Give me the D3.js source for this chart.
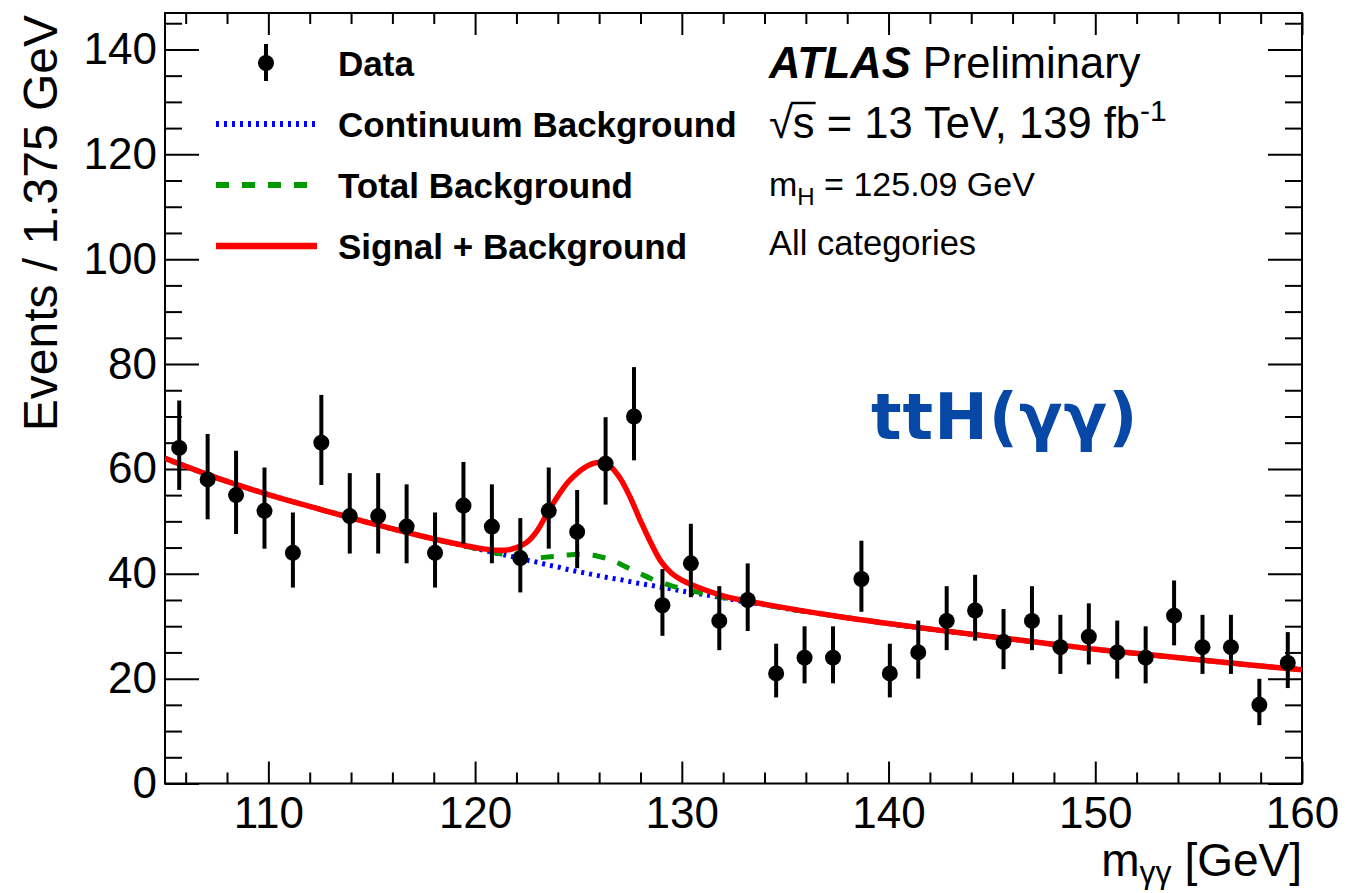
<!DOCTYPE html>
<html>
<head>
<meta charset="utf-8">
<script src="https://cdn.jsdelivr.net/npm/d3@7"></script>
<style>
  html, body { margin: 0; padding: 0; background: #fff; }
  svg { display: block; }
  text { font-family: "Liberation Sans", Arial, Helvetica, sans-serif; }
</style>
</head>
<body>
<svg id="chart" width="1369" height="893"></svg>
<script>
// ---- data -------------------------------------------------------------
// diphoton invariant mass bins (1.375 GeV wide), bin centres in GeV
const binCenters = [105.6875, 107.0625, 108.4375, 109.8125, 111.1875, 112.5625, 113.9375, 115.3125,
  116.6875, 118.0625, 119.4375, 120.8125, 122.1875, 123.5625, 124.9375, 126.3125, 127.6875, 129.0625,
  130.4375, 131.8125, 133.1875, 134.5625, 135.9375, 137.3125, 138.6875, 140.0625, 141.4375, 142.8125,
  144.1875, 145.5625, 146.9375, 148.3125, 149.6875, 151.0625, 152.4375, 153.8125, 155.1875, 156.5625,
  157.9375, 159.3125];
// observed events per bin
const dataCounts = [64, 58, 55, 52, 44, 65, 51, 51, 49, 44, 53, 49, 43, 52, 48, 61, 70, 34, 42, 31,
  35, 21, 24, 24, 39, 21, 25, 31, 33, 27, 31, 26, 28, 25, 24, 32, 26, 26, 15, 23];

// fit curves sampled along the mass axis
const curveMass = [105, 107.5, 110, 112.5, 115, 117.5, 118.5, 119.5, 120.5, 121.5, 122, 122.5, 123, 123.5,
  124, 124.5, 125, 125.5, 126, 126.5, 127, 127.5, 128, 128.5, 129, 129.5, 130, 131, 132, 133, 134, 135,
  137.5, 140, 142.5, 145, 147.5, 150, 152.5, 155, 157.5, 160];
const continuumBkg = [62.0, 58.3, 55.1, 52.3, 49.6, 47.1, 46.2, 45.3, 44.4, 43.5, 43.1, 42.6, 42.2, 41.7,
  41.3, 40.8, 40.4, 40.0, 39.6, 39.2, 38.9, 38.5, 38.1, 37.8, 37.4, 37.1, 36.7, 36.1, 35.4, 34.7, 34.1, 33.4,
  31.9, 30.5, 29.2, 28.0, 26.8, 25.6, 24.6, 23.6, 22.6, 21.7];
const totalBkg = [62.0, 58.3, 55.1, 52.3, 49.6, 47.1, 46.2, 45.3, 44.4, 43.6, 43.2, 42.9, 43.0, 43.2,
  43.4, 43.6, 43.7, 43.6, 43.3, 42.7, 41.9, 40.9, 40.0, 39.1, 38.4, 37.7, 37.2, 36.3, 35.5, 34.8, 34.1, 33.4,
  31.9, 30.5, 29.2, 28.0, 26.8, 25.6, 24.6, 23.6, 22.6, 21.7];
const signalPlusBkg = [62.0, 58.3, 55.1, 52.3, 49.6, 47.1, 46.2, 45.4, 44.7, 44.5, 45.0, 46.0, 48.2, 51.6,
  54.8, 57.5, 59.4, 60.7, 61.2, 60.6, 58.3, 54.6, 50.1, 45.9, 42.3, 40.1, 38.8, 37.1, 35.8, 34.9, 34.2, 33.5,
  31.9, 30.5, 29.2, 28.0, 26.8, 25.6, 24.6, 23.6, 22.6, 21.7];

// axis ticks
const xMajorTicks = [110, 120, 130, 140, 150, 160];
const xMinorTicks = [106, 108, 112, 114, 116, 118, 122, 124, 126, 128, 132, 134, 136, 138, 142, 144,
  146, 148, 152, 154, 156, 158];
const yMajorTicks = [0, 20, 40, 60, 80, 100, 120, 140];
const yMinorTicks = [5, 10, 15, 25, 30, 35, 45, 50, 55, 65, 70, 75, 85, 90, 95, 105, 110, 115, 125, 130, 135, 145];

const legendEntries = ["Data", "Continuum Background", "Total Background", "Signal + Background"];

// ---- layout -------------------------------------------------------------
const svg = d3.select("#chart");
const frame = { left: 165, right: 1302, top: 13, bottom: 783.5 };

const x = d3.scaleLinear().domain([105, 160]).range([frame.left, frame.right]);
const y = d3.scaleLinear().domain([0, 146.95]).range([frame.bottom, frame.top]);

svg.append("rect").attr("width", 1369).attr("height", 893).attr("fill", "#fff");

svg.append("defs").append("clipPath").attr("id", "plotArea")
  .append("rect")
  .attr("x", frame.left).attr("y", frame.top)
  .attr("width", frame.right - frame.left).attr("height", frame.bottom - frame.top);

// ---- axes (ticks pointing into the frame on all four sides) -------------
const tickFont = 44;

function styleAxis(g) {
  g.select(".domain").remove();
  g.selectAll(".tick line").attr("stroke", "#000").attr("stroke-width", 2);
  g.selectAll(".tick text").attr("fill", "#000").style("font-size", tickFont + "px")
    .style("font-family", "'Liberation Sans', Arial, Helvetica, sans-serif");
}

// bottom
svg.append("g").attr("transform", `translate(0,${frame.bottom})`)
  .call(d3.axisBottom(x).tickValues(xMajorTicks).tickSizeInner(-22).tickSizeOuter(0).tickPadding(13)
    .tickFormat(d3.format("d")))
  .call(styleAxis);
svg.append("g").attr("transform", `translate(0,${frame.bottom})`)
  .call(d3.axisBottom(x).tickValues(xMinorTicks).tickSizeInner(-11).tickSizeOuter(0).tickFormat(""))
  .call(styleAxis);
// top
svg.append("g").attr("transform", `translate(0,${frame.top})`)
  .call(d3.axisTop(x).tickValues(xMajorTicks).tickSizeInner(-22).tickSizeOuter(0).tickFormat(""))
  .call(styleAxis);
svg.append("g").attr("transform", `translate(0,${frame.top})`)
  .call(d3.axisTop(x).tickValues(xMinorTicks).tickSizeInner(-11).tickSizeOuter(0).tickFormat(""))
  .call(styleAxis);
// left
svg.append("g").attr("transform", `translate(${frame.left},0)`)
  .call(d3.axisLeft(y).tickValues(yMajorTicks).tickSizeInner(-34).tickSizeOuter(0).tickPadding(8)
    .tickFormat(d3.format("d")))
  .call(styleAxis);
svg.append("g").attr("transform", `translate(${frame.left},0)`)
  .call(d3.axisLeft(y).tickValues(yMinorTicks).tickSizeInner(-17).tickSizeOuter(0).tickFormat(""))
  .call(styleAxis);
// right
svg.append("g").attr("transform", `translate(${frame.right},0)`)
  .call(d3.axisRight(y).tickValues(yMajorTicks).tickSizeInner(-34).tickSizeOuter(0).tickFormat(""))
  .call(styleAxis);
svg.append("g").attr("transform", `translate(${frame.right},0)`)
  .call(d3.axisRight(y).tickValues(yMinorTicks).tickSizeInner(-17).tickSizeOuter(0).tickFormat(""))
  .call(styleAxis);

// frame
svg.append("rect")
  .attr("x", frame.left).attr("y", frame.top)
  .attr("width", frame.right - frame.left).attr("height", frame.bottom - frame.top)
  .attr("fill", "none").attr("stroke", "#000").attr("stroke-width", 2);

// axis titles
const xTitle = svg.append("text")
  .attr("x", frame.right).attr("y", 876)
  .attr("text-anchor", "end")
  .style("font-size", "46px").attr("fill", "#000");
xTitle.append("tspan").text("m");
xTitle.append("tspan").attr("dy", 7).style("font-size", "32px").text("γγ");
xTitle.append("tspan").attr("dy", -7).text(" [GeV]");

svg.append("text")
  .attr("transform", `translate(57,${frame.top + 2}) rotate(-90)`)
  .attr("text-anchor", "end")
  .style("font-size", "48px").attr("fill", "#000")
  .text("Events / 1.375 GeV");

// ---- fit curves ---------------------------------------------------------
const plot = svg.append("g").attr("clip-path", "url(#plotArea)");

function curvePath(values) {
  return d3.line()
    .x((d, i) => x(curveMass[i]))
    .y(d => y(d))
    .curve(d3.curveCatmullRom.alpha(0.5))(values);
}

const styles = {
  cont:  { color: "#0000ff", width: 5, dash: "3,5" },
  total: { color: "#009900", width: 5, dash: "13,13" },
  sb:    { color: "#ff0000", width: 5.5, dash: null }
};

plot.append("path").attr("d", curvePath(continuumBkg))
  .attr("fill", "none").attr("stroke", styles.cont.color)
  .attr("stroke-width", styles.cont.width).attr("stroke-dasharray", styles.cont.dash);
plot.append("path").attr("d", curvePath(totalBkg))
  .attr("fill", "none").attr("stroke", styles.total.color)
  .attr("stroke-width", styles.total.width).attr("stroke-dasharray", styles.total.dash);
plot.append("path").attr("d", curvePath(signalPlusBkg))
  .attr("fill", "none").attr("stroke", styles.sb.color)
  .attr("stroke-width", styles.sb.width);

// ---- data points with Poisson (68%) error bars -------------------------
const points = binCenters.map((m, i) => {
  const n = dataCounts[i];
  return { m, n, lo: n - Math.sqrt(n), hi: n + 1 + Math.sqrt(n + 0.75) };
});

const pts = plot.append("g").selectAll("g").data(points).join("g");
pts.append("line")
  .attr("x1", d => x(d.m)).attr("x2", d => x(d.m))
  .attr("y1", d => y(d.lo)).attr("y2", d => y(d.hi))
  .attr("stroke", "#000").attr("stroke-width", 4);
pts.append("circle")
  .attr("cx", d => x(d.m)).attr("cy", d => y(d.n)).attr("r", 8)
  .attr("fill", "#000");

// ---- legend ------------------------------------------------------------
const legend = svg.append("g");
const legendRows = [63, 124, 185, 246];
const legendTextX = 338;
const legendFont = 35;

// data marker
legend.append("line").attr("x1", 266).attr("x2", 266).attr("y1", 44).attr("y2", 81)
  .attr("stroke", "#000").attr("stroke-width", 4);
legend.append("circle").attr("cx", 266).attr("cy", legendRows[0]).attr("r", 8).attr("fill", "#000");

[styles.cont, styles.total, styles.sb].forEach((s, k) => {
  legend.append("line")
    .attr("x1", 216).attr("x2", 317)
    .attr("y1", legendRows[k + 1]).attr("y2", legendRows[k + 1])
    .attr("stroke", s.color).attr("stroke-width", s.width + 1)
    .attr("stroke-dasharray", s.dash);
});

legend.selectAll("text.entry").data(legendEntries).join("text")
  .attr("class", "entry")
  .attr("x", legendTextX)
  .attr("y", (d, i) => legendRows[i] + 13)
  .style("font-size", legendFont + "px").style("font-weight", "bold")
  .attr("fill", "#000")
  .text(d => d);

// ---- labels -------------------------------------------------------------
const lx = 769;
const atlas = svg.append("text").attr("x", lx).attr("y", 78).style("font-size", "43.5px").attr("fill", "#000");
atlas.append("tspan").style("font-weight", "bold").style("font-style", "italic").text("ATLAS");
atlas.append("tspan").text(" Preliminary");

const energyY = 138, energyFont = 43.5;
const energy = svg.append("text").attr("x", lx).attr("y", energyY)
  .style("font-size", energyFont + "px").attr("fill", "#000");
energy.append("tspan").text("√s");
energy.append("tspan").text(" = 13 TeV, 139 fb");
energy.append("tspan").attr("dy", -17).style("font-size", "30px").text("-1");
// overbar of the square root spanning the "s"
{
  const node = energy.node();
  const rootEnd = node.getEndPositionOfChar(0).x;
  const sEnd = node.getEndPositionOfChar(1).x;
  svg.append("line")
    .attr("x1", rootEnd - 2).attr("x2", sEnd + 1)
    .attr("y1", energyY - 35).attr("y2", energyY - 35)
    .attr("stroke", "#000").attr("stroke-width", 2.5);
}

const mass = svg.append("text").attr("x", lx).attr("y", 196).style("font-size", "34px").attr("fill", "#000");
mass.append("tspan").text("m");
mass.append("tspan").attr("dy", 9).style("font-size", "24px").text("H");
mass.append("tspan").attr("dy", -9).text(" = 125.09 GeV");

svg.append("text").attr("x", lx).attr("y", 255).style("font-size", "34.5px").attr("fill", "#000")
  .text("All categories");

svg.append("text").attr("x", 871).attr("y", 439)
  .style("font-family", "'DejaVu Sans', Verdana, sans-serif")
  .style("font-weight", "bold").style("font-size", "64px")
  .style("letter-spacing", "1px")
  .attr("fill", "#0747a6")
  .text("ttH(γγ)");
</script>
</body>
</html>
